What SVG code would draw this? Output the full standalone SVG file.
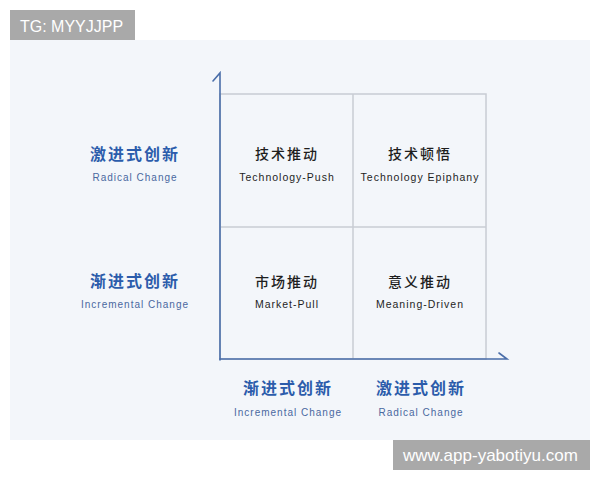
<svg xmlns="http://www.w3.org/2000/svg" width="600" height="480" viewBox="0 0 600 480">
<style>
.title{font-family:"Noto Sans CJK SC","Noto Sans",sans-serif;font-size:16px;font-weight:700;fill:#2b5cab;letter-spacing:2px;text-anchor:middle}
.sub{font-family:"Liberation Sans",Arial,sans-serif;font-size:10px;fill:#4a68a0;letter-spacing:1px;text-anchor:middle}
.cz{font-family:"Noto Sans CJK SC","Noto Sans",sans-serif;font-size:14px;font-weight:500;fill:#1e1e1e;letter-spacing:2px;text-anchor:middle}
.en{font-family:"Liberation Sans",Arial,sans-serif;font-size:10.5px;fill:#1e1e1e;letter-spacing:1px;text-anchor:middle}
.grid{fill:none;stroke:#c8ccd3;stroke-width:1.5}
.axis{fill:none;stroke:#4a6ea9;stroke-width:1.6;stroke-linecap:round}
.wm{font-family:"Liberation Sans",Arial,sans-serif;fill:#ffffff}
</style>
<rect x="0" y="0" width="600" height="480" fill="#ffffff"/>
<rect x="10" y="40" width="580" height="400" fill="#f3f6fa"/>
<g id="grid">
<rect class="grid" x="220" y="94" width="266" height="265"/>
<line class="grid" x1="353" y1="94" x2="353" y2="359"/>
<line class="grid" x1="220" y1="227" x2="486" y2="227"/>
</g>
<g id="connectors">
<path class="axis" d="M220,360 L220,73 L213,81"/>
<path class="axis" d="M220,359 L507,359 L499,353"/>
</g>
<g id="y-radical">
<text class="title" x="135" y="160">激进式创新</text>
<text class="sub" x="135" y="181">Radical Change</text>
</g>
<g id="y-incremental">
<text class="title" x="135" y="287">渐进式创新</text>
<text class="sub" x="135" y="308">Incremental Change</text>
</g>
<g id="cell-tech-push">
<text class="cz" x="287" y="159">技术推动</text>
<text class="en" x="287" y="181">Technology-Push</text>
</g>
<g id="cell-tech-epiphany">
<text class="cz" x="420" y="159">技术顿悟</text>
<text class="en" x="420" y="181">Technology Epiphany</text>
</g>
<g id="cell-market-pull">
<text class="cz" x="287" y="287">市场推动</text>
<text class="en" x="287" y="308">Market-Pull</text>
</g>
<g id="cell-meaning-driven">
<text class="cz" x="420" y="287">意义推动</text>
<text class="en" x="420" y="308">Meaning-Driven</text>
</g>
<g id="x-incremental">
<text class="title" x="288" y="394">渐进式创新</text>
<text class="sub" x="288" y="416">Incremental Change</text>
</g>
<g id="x-radical">
<text class="title" x="421" y="394">激进式创新</text>
<text class="sub" x="421" y="416">Radical Change</text>
</g>
<g id="watermark-top">
<rect x="10" y="10" width="125" height="30" fill="#a9a9a9"/>
<text class="wm" x="20" y="32" font-size="16">TG: MYYJJPP</text>
</g>
<g id="watermark-bottom">
<rect x="393" y="440" width="197" height="30" fill="#a9a9a9"/>
<text class="wm" x="403" y="461" font-size="17">www.app-yabotiyu.com</text>
</g>
</svg>
